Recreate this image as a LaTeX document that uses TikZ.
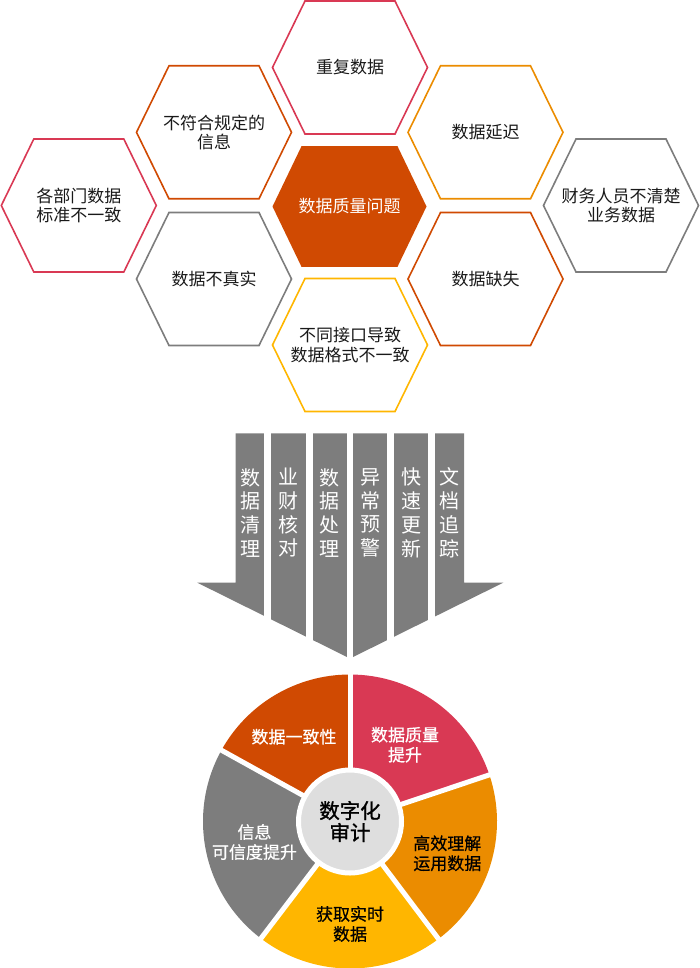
\documentclass[tikz,border=0pt]{standalone}
\usepackage{fontspec}
\setmainfont{Noto Sans CJK SC}
\newfontfamily\midfont{Noto Sans CJK SC}[FakeBold=0.6]
\newfontfamily\hubfont{Noto Sans CJK SC}[FakeBold=1.2]
\definecolor{hexpink}{HTML}{D93954}
\definecolor{hexrust}{HTML}{D04A02}
\definecolor{hexorange}{HTML}{EB8C00}
\definecolor{hexyellow}{HTML}{FFB600}
\definecolor{hexgray}{HTML}{7D7D7D}
\definecolor{hubgray}{HTML}{DEDEDE}
\tikzset{
  hexline/.style    = {line width=1.6pt, line join=miter},
  hexlabel/.style   = {align=center, inner sep=0pt, text=black!90,
                       font=\fontsize{17}{19.5}\selectfont},
  barlabel/.style   = {align=center, inner sep=0pt, text=white,
                       font=\fontsize{20}{23.7}\selectfont},
  slicelabel/.style = {align=center, inner sep=0pt, text=black,
                       font=\midfont\fontsize{17}{20}\selectfont},
  slicegap/.style   = {draw=white, line width=5pt},
  hub/.style        = {circle, fill=hubgray, draw=white, line width=5pt,
                       minimum size=103pt, inner sep=0pt, align=center,
                       font=\hubfont\fontsize{20.5}{22}\selectfont}
}
\newcommand{\hexcell}[4]{%
  \begin{scope}[shift={(#1)}]
    \draw[hexline, draw=#3] (-77.5,0) -- (-45,66.5) -- (45,66.5) -- (77.5,0)
          -- (45,-66.5) -- (-45,-66.5) -- cycle;
    \node[hexlabel] (#2) at (0,0) {#4};
  \end{scope}}

\begin{document}
\begin{tikzpicture}[x=1pt,y=1pt,yscale=-1]
\useasboundingbox (0,0) rectangle (700,968);

% --- the honeycomb of data quality problems --------------------------------
\hexcell{78.8,205.5}{depts}{hexpink}{各部门数据\\标准不一致}
\hexcell{214,132.3}{rules}{hexrust}{不符合规定的\\信息}
\hexcell{214,279}{untrue}{hexgray}{数据不真实}
\hexcell{350,67.5}{dupes}{hexpink}{重复数据}
\hexcell{350,345}{formats}{hexyellow}{不同接口导致\\数据格式不一致}
\hexcell{485.5,132.3}{delay}{hexorange}{数据延迟}
\hexcell{485.5,279}{missing}{hexrust}{数据缺失}
\hexcell{621,205.5}{staff}{hexgray}{财务人员不清楚\\业务数据}

% --- the filled hexagon in the middle --------------------------------------
\begin{scope}[shift={(349.5,206.5)}]
  \fill[hexrust] (-77,0) -- (-48,60.3) -- (48,60.3) -- (77,0)
        -- (48,-60.3) -- (-48,-60.3) -- cycle;
  \node[hexlabel, text=white] (core) at (0,0) {数据质量问题};
\end{scope}

% --- the big arrow, cut into six strips ------------------------------------
\fill[hexgray] (235.7,433.3) -- (464,433.3) -- (464,582.7) -- (503.3,582.7)
      -- (350,658.5) -- (197.3,582.7) -- (235.7,582.7) -- cycle;
\foreach \g in {267.8,309.2,350,390.7,431.7}
  \fill[white] (\g-3.4,428) rectangle (\g+3.4,665);

\foreach \x/\t [count=\i] in {250/{数\\据\\清\\理}, 288.8/{业\\财\\核\\对},
    329.5/{数\\据\\处\\理}, 370.3/{异\\常\\预\\警},
    411.2/{快\\速\\更\\新}, 449.5/{文\\档\\追\\踪}}
  \node[barlabel] (bar\i) at (\x,512.8) {\t};

% --- the ring of results ---------------------------------------------------
\coordinate (pie) at (350,821.5);
\foreach \a/\b/\c in {-18.5/-90/hexpink, -90/-151/hexrust,
    -151/-232.7/hexgray, -232.7/-307/hexyellow, -307/-378.5/hexorange}
  \fill[\c] (pie) -- ++(\a:147) arc[start angle=\a, end angle=\b, radius=147]
        -- cycle;
\foreach \a in {-18.5,-90,-151,-232.7,-307}
  \draw[slicegap] (pie) -- ++(\a:152);

\node[slicelabel, text=white] (consist)    at (294,736.7)   {数据一致性};
\node[slicelabel, text=white] (quality)    at (405,744.7)   {数据质量\\提升};
\node[slicelabel]             (understand) at (447.3,853.3) {高效理解\\运用数据};
\node[slicelabel]             (realtime)   at (350,924)     {获取实时\\数据};
\node[slicelabel, text=white] (trust)      at (254.5,842)   {信息\\可信度提升};

\node[hub] (audit) at (pie) {数字化\\审计};

\end{tikzpicture}
\end{document}
